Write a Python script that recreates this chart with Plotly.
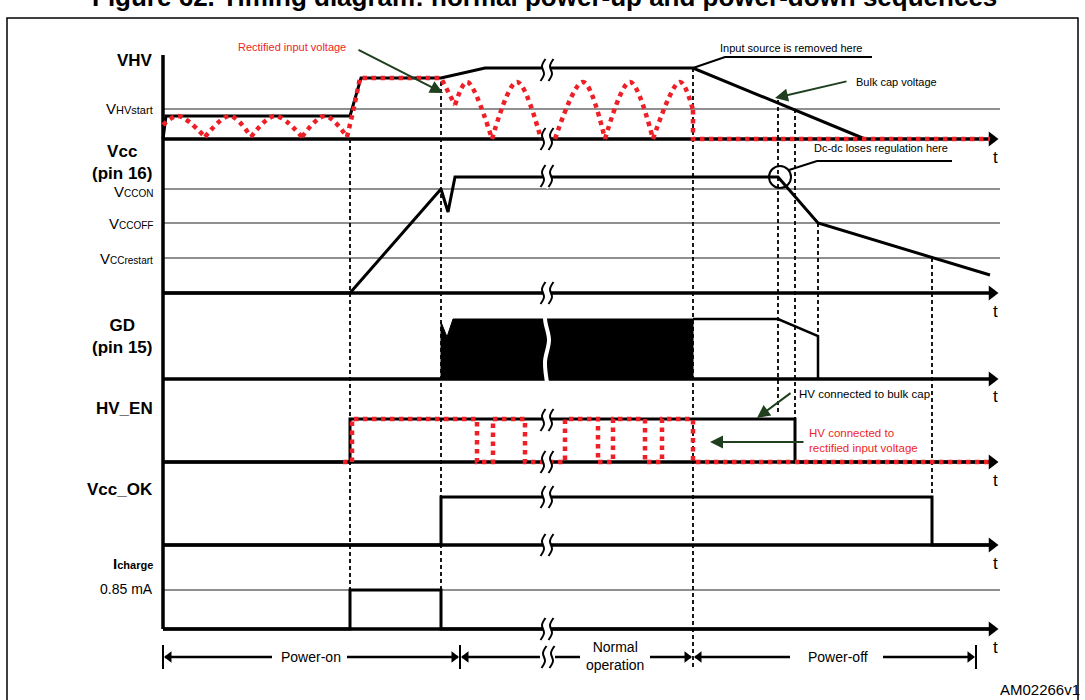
import plotly.graph_objects as go

FONT = 'Liberation Sans, Arial, sans-serif'
RED = '#ee1f26'
GREEN = '#1f3f1f'

# page geometry (px)
x_left, x_end, x_tip = 163, 990, 998

# rails of each waveform
rail_y = [139, 293, 379, 462, 545, 629]
rail_top = 55
thr_y = [109, 189, 223, 258, 590]

# VHV - bulk cap voltage
vhv_x = [163, 166, 350, 361, 441, 485, 693, 865]
vhv_y = [139, 116, 116, 78, 78, 68, 68, 139]

# VHV - rectified input voltage (red)
ripple_x = [163, 178, 205, None, 205, 230, 251, None, 251, 275, 302, None, 302, 325, 347]
ripple_y = [125, 116, 137, None, 137, 116, 137, None, 137, 116, 137, None, 137, 116, 137]
rect_step_x = [347, 353, 360, 441, 455]
rect_step_y = [137, 112, 78, 78, 105]
rect_big_x = [455, 467, 492, None, 492, 517, 541, None, 555, 583, 605, None, 605, 630, 653, None, 653, 680, 693]
rect_big_y = [105, 82, 139, None, 139, 82, 139, None, 139, 82, 139, None, 139, 82, 139, None, 139, 82, 110]
rect_tail_x = [693, 693, 990]
rect_tail_y = [110, 139, 139]

# Vcc (pin 16)
vcc_x = [163, 350, 441, 448, 455, 778, 818, 990]
vcc_y = [293, 293, 189, 212, 177, 177, 223, 275]

# GD (pin 15)
gd_block_x = [441, 441, 447, 453, 693, 693, 441]
gd_block_y = [379, 322, 337, 319, 319, 379, 379]
gd_tail_x = [693, 778, 818, 818]
gd_tail_y = [319, 319, 336, 379]

# HV_EN
hven_x = [163, 350, 350, 795, 795, 990]
hven_y = [462, 462, 419, 419, 462, 462]
hven_red_x = [343, 352, 352, 477, 477, 493, 493, 525, 525, 565, 565, 598, 598, 613, 613,
              645, 645, 662, 662, 693, 693, 990]
hven_red_y = [462, 462, 419, 419, 462, 462, 419, 419, 462, 462, 419, 419, 462, 462, 419,
              419, 462, 462, 419, 419, 462, 462]

# Vcc_OK
vok_x = [163, 441, 441, 932, 932, 990]
vok_y = [545, 545, 497, 497, 545, 545]

# Icharge
ich_x = [163, 350, 350, 441, 441, 990]
ich_y = [629, 629, 590, 590, 629, 629]

# dashed event markers
ev_x = [350, 441, 693, 778, 795, 818, 932]
ev_y0 = [139, 82, 68, 100, 109, 223, 258]
ev_y1 = [590, 590, 668, 415, 419, 336, 497]

# axis-break symbols
brk_x = [547, 547, 547, 547, 547, 547, 547, 547, 547, 548]
brk_y = [70, 139, 176, 293, 420, 462, 497, 545, 629, 657]

# time spans row
span_y = 657
span_bars = [163, 460, 976]
span_segs = [(165, 272), (347, 458), (462, 540), (555, 580), (650, 691), (695, 790), (883, 973)]
span_left_tips = [163, 460, 693]
span_right_tips = [460, 693, 976]

fig = go.Figure()


def line(x, y, width=3, color='black', dash=None, shape='linear', fill=None, fillcolor=None):
    fig.add_trace(go.Scatter(x=x, y=y, mode='lines', hoverinfo='skip',
                             line=dict(width=width, color=color, dash=dash, shape=shape),
                             fill=fill, fillcolor=fillcolor, showlegend=False))


# frame
line([7, 7, 1078, 1078], [705, 18, 18, 705], width=1.5)

# thresholds
for y in thr_y:
    line([x_left, 1000], [y, y], width=1.2, color='#222')

# dashed event lines
for x, a, b in zip(ev_x, ev_y0, ev_y1):
    line([x, x], [a, b], width=1.8, dash='4px,3px')

# left axis + rails with arrows
line([x_left, x_left], [rail_top, rail_y[-1]], width=3.5)
for y in rail_y:
    line([x_left, x_tip - 8], [y, y], width=3.5)
fig.add_trace(go.Scatter(x=[x_tip - 6] * len(rail_y), y=rail_y, mode='markers', hoverinfo='skip',
                         marker=dict(symbol='triangle-right', size=13, color='black'), showlegend=False))

# waveforms
line(vhv_x, vhv_y, width=3)
line(vcc_x, vcc_y, width=3)
line(gd_block_x, gd_block_y, width=1, fill='toself', fillcolor='black')
line(gd_tail_x, gd_tail_y, width=2.5)
line(hven_x, hven_y, width=3)
line(vok_x, vok_y, width=3)
line(ich_x, ich_y, width=3)

# red rectified traces
line(ripple_x, ripple_y, width=4.5, color=RED, dash='dot', shape='spline')
line(rect_step_x, rect_step_y, width=4.5, color=RED, dash='dot')
line(rect_big_x, rect_big_y, width=4.5, color=RED, dash='dot', shape='spline')
line(rect_tail_x, rect_tail_y, width=4.5, color=RED, dash='dot')
line(hven_red_x, hven_red_y, width=4.5, color=RED, dash='dot')

# circle where dc-dc loses regulation
fig.add_trace(go.Scatter(x=[780], y=[177], mode='markers', hoverinfo='skip', showlegend=False,
                         marker=dict(symbol='circle-open', size=22, color='black', line=dict(width=2))))

# leader lines
line([693, 725, 872], [68, 57, 57], width=2)
line([789, 817, 952], [170, 161, 161], width=2)

# break symbols
line([549, 545, 549, 545, 548], [296, 318, 340, 362, 388], width=4, color='white', shape='spline')
for x, y in zip(brk_x, brk_y):
    cx = [x + 2.5, x - 1, x + 1, x - 2.5]
    cy = [y - 11, y - 4, y + 4, y + 11]
    line(cx, cy, width=7, color='white', shape='spline')
    line([c - 4 for c in cx], cy, width=2, shape='spline')
    line([c + 4 for c in cx], cy, width=2, shape='spline')

# time span row
for x in span_bars:
    line([x, x], [645, 669], width=2)
for a, b in span_segs:
    line([a, b], [span_y, span_y], width=2.5)
fig.add_trace(go.Scatter(x=[x + 6 for x in span_left_tips], y=[span_y] * 3, mode='markers', hoverinfo='skip',
                         marker=dict(symbol='triangle-left', size=10, color='black'), showlegend=False))
fig.add_trace(go.Scatter(x=[x - 6 for x in span_right_tips], y=[span_y] * 3, mode='markers', hoverinfo='skip',
                         marker=dict(symbol='triangle-right', size=10, color='black'), showlegend=False))

# texts
notes = []


def text(x, y, s, size=11, color='black', xanchor='center', bold=False, align='center'):
    if bold:
        s = '<b>' + s + '</b>'
    notes.append(dict(x=x, y=y, text=s, showarrow=False, xanchor=xanchor, yanchor='middle', align=align,
                      font=dict(family=FONT, size=size, color=color)))


def sub(big, small, small_size=10):
    return big + '<span style="font-size:%dpx">%s</span>' % (small_size, small)


# title, only its lower half shows in the page
notes.append(dict(x=0.502, y=1 + 3 / 700, xref='paper', yref='paper', showarrow=False,
                  xanchor='center', yanchor='middle',
                  text='<b>Figure 62. Timing diagram: normal power-up and power-down sequences</b>',
                  font=dict(family=FONT, size=26, color='black')))

text(155, 60, 'VHV', size=17, xanchor='right', bold=True)
text(155, 108, sub('V', 'HVstart', 11), size=15, xanchor='right')
text(122, 162, 'Vcc<br>(pin 16)', size=17, bold=True)
text(155, 191, sub('V', 'CCON'), size=15, xanchor='right')
text(155, 223, sub('V', 'CCOFF'), size=15, xanchor='right')
text(155, 258, sub('V', 'CCrestart'), size=15, xanchor='right')
text(122, 336, 'GD<br>(pin 15)', size=17, bold=True)
text(155, 408, 'HV_EN', size=17, xanchor='right', bold=True)
text(155, 489, 'Vcc_OK', size=17, xanchor='right', bold=True)
text(155, 563, '<b>I</b><span style="font-size:11px"><b>charge</b></span>', size=15, xanchor='right')
text(155, 589, '0.85 mA', size=14, xanchor='right')

for y in [157, 311, 396, 480, 563, 647]:
    text(995, y, 't', size=17)

text(292, 47, 'Rectified input voltage', color=RED)
text(791, 48, 'Input source is removed here')
text(896, 82, 'Bulk cap voltage')
text(881, 148, 'Dc-dc loses regulation here')
text(864, 394, 'HV connected to bulk cap', size=11.5)
text(807, 440, 'HV connected to<br>rectified input voltage', size=11.5, color=RED, xanchor='left', align='left')

text(311, 657, 'Power-on', size=14)
text(615, 656, 'Normal<br>operation', size=14)
text(838, 657, 'Power-off', size=14)
text(1082, 689, 'AM02266v1', size=15, xanchor='right')

# green pointer arrows
for tip, tail in [((443, 93), (357, 49)), ((775, 98), (848, 81)),
                  ((757, 418), (792, 392)), ((710, 442), (805, 442))]:
    notes.append(dict(x=tip[0], y=tip[1], ax=tail[0], ay=tail[1], xref='x', yref='y', axref='x', ayref='y',
                      text='', showarrow=True, arrowhead=2, arrowsize=1.3, arrowwidth=2, arrowcolor=GREEN))

fig.update_layout(
    width=1085, height=700, margin=dict(l=0, r=0, t=0, b=0),
    paper_bgcolor='white', plot_bgcolor='white',
    xaxis=dict(range=[0, 1085], visible=False, fixedrange=True),
    yaxis=dict(range=[700, 0], visible=False, fixedrange=True),
    annotations=notes,
)

fig.write_html('out.html', config={'displayModeBar': False},
               post_script="document.body.style.margin='0';")
